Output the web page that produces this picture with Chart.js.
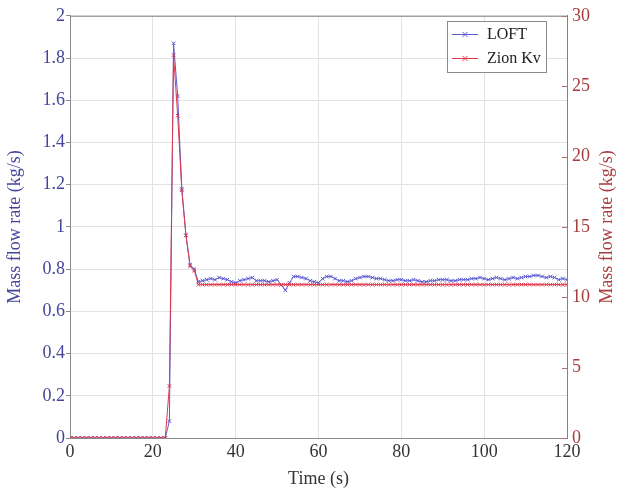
<!DOCTYPE html>
<html>
<head>
<meta charset="utf-8">
<script src="https://cdn.jsdelivr.net/npm/chart.js@4"></script>
<style>
  html, body { margin: 0; padding: 0; background: #ffffff; }
  canvas { display: block; }
</style>
</head>
<body>
<canvas id="flowChart" width="625" height="494"></canvas>
<script>
// Time stamps (s)
const time = [
  0,1,2,3,4,5,6,7,8,9,10,11,12,13,14,15,16,17,18,19,20,
  21,22,23,24,25,26,27,28,29,30,31,32,33,34,35,36,37,38,39,40,
  41,42,43,44,45,46,47,48,49,50,51,52,53,54,55,56,57,58,59,60,
  61,62,63,64,65,66,67,68,69,70,71,72,73,74,75,76,77,78,79,80,
  81,82,83,84,85,86,87,88,89,90,91,92,93,94,95,96,97,98,99,100,
  101,102,103,104,105,106,107,108,109,110,111,112,113,114,115,116,117,118,119,120
];

// LOFT mass flow rate (kg/s), left axis
const loftFlow = [
  0,0,0,0,0,0,0,0,0,0,0,0,0,0,0,0,0,0,0,0,0,
  0,0,0,0.08,1.87,1.62,1.18,0.96,0.82,0.80,0.74,0.745,0.75,0.755,0.75,0.76,0.755,0.75,0.74,0.735,
  0.745,0.75,0.755,0.76,0.745,0.745,0.745,0.74,0.745,0.75,0.725,0.70,0.735,0.765,0.765,0.76,0.755,0.745,0.74,0.735,
  0.755,0.765,0.765,0.755,0.745,0.745,0.74,0.745,0.755,0.76,0.765,0.765,0.76,0.755,0.755,0.75,0.745,0.745,0.75,0.75,
  0.745,0.745,0.75,0.745,0.74,0.74,0.745,0.745,0.75,0.75,0.75,0.745,0.745,0.75,0.75,0.75,0.755,0.755,0.76,0.755,
  0.75,0.755,0.76,0.755,0.75,0.755,0.76,0.755,0.76,0.765,0.765,0.77,0.77,0.765,0.76,0.765,0.76,0.75,0.755,0.75
];

// Zion Kv mass flow rate (kg/s), right axis
const zionFlow = [
  0,0,0,0,0,0,0,0,0,0,0,0,0,0,0,0,0,0,0,0,0,
  0,0,0,3.7,27.2,22.9,17.6,14.4,12.2,11.9,10.9,10.9,10.9,10.9,10.9,10.9,10.9,10.9,10.9,10.9,
  10.9,10.9,10.9,10.9,10.9,10.9,10.9,10.9,10.9,10.9,10.9,10.9,10.9,10.9,10.9,10.9,10.9,10.9,10.9,10.9,
  10.9,10.9,10.9,10.9,10.9,10.9,10.9,10.9,10.9,10.9,10.9,10.9,10.9,10.9,10.9,10.9,10.9,10.9,10.9,10.9,
  10.9,10.9,10.9,10.9,10.9,10.9,10.9,10.9,10.9,10.9,10.9,10.9,10.9,10.9,10.9,10.9,10.9,10.9,10.9,10.9,
  10.9,10.9,10.9,10.9,10.9,10.9,10.9,10.9,10.9,10.9,10.9,10.9,10.9,10.9,10.9,10.9,10.9,10.9,10.9,10.9
];

const seriesNames = ['LOFT', 'Zion Kv'];
const rightTicks = [0, 5, 10, 15, 20, 25, 30];

const BLUE = '#5a5ad2';
const RED = '#e0384c';
const BLUE_TEXT = '#45459a';
const RED_TEXT = '#a83c3c';
const SERIF = '"Liberation Serif", "DejaVu Serif", serif';

const toPoints = (xs, ys) => xs.map((x, i) => ({ x: x, y: ys[i] }));
// plain number labels: 0, 0.2, ..., 1, 1.2, ..., 2
const plainLabel = v => String(parseFloat(Number(v).toFixed(2)));

// Frame, inner ticks of the right axis, its rotated title and the boxed key
const decorations = {
  id: 'decorations',
  afterDatasetsDraw(chart) {
    const ctx = chart.ctx;
    const a = chart.chartArea;
    const y1 = chart.scales.y1;
    ctx.save();
    // top border
    ctx.strokeStyle = '#8a8a8a';
    ctx.lineWidth = 1;
    ctx.beginPath();
    ctx.moveTo(a.left, a.top + 0.5);
    ctx.lineTo(a.right, a.top + 0.5);
    ctx.stroke();
    // right-axis inward ticks
    ctx.strokeStyle = '#b07070';
    rightTicks.forEach(v => {
      const py = Math.round(y1.getPixelForValue(v)) + 0.5;
      ctx.beginPath();
      ctx.moveTo(a.right - 5, py);
      ctx.lineTo(a.right, py);
      ctx.stroke();
    });
    // right axis title, reading upward
    ctx.fillStyle = RED_TEXT;
    ctx.font = '18px ' + SERIF;
    ctx.textAlign = 'center';
    ctx.textBaseline = 'middle';
    ctx.translate(607, (a.top + a.bottom) / 2);
    ctx.rotate(-Math.PI / 2);
    ctx.fillText('Mass flow rate (kg/s)', 0, 0);
    ctx.restore();

    // key box
    ctx.save();
    const bx = 447, by = 21, bw = 99, bh = 51;
    ctx.fillStyle = '#ffffff';
    ctx.fillRect(bx, by, bw, bh);
    ctx.strokeStyle = '#8a8a8a';
    ctx.lineWidth = 1;
    ctx.strokeRect(bx + 0.5, by + 0.5, bw, bh);
    const colors = [BLUE, RED];
    const rows = [34, 58];
    ctx.font = '16px ' + SERIF;
    ctx.textAlign = 'left';
    ctx.textBaseline = 'middle';
    seriesNames.forEach((name, i) => {
      const ry = rows[i] + 0.5;
      ctx.strokeStyle = colors[i];
      ctx.beginPath();
      ctx.moveTo(452, ry);
      ctx.lineTo(478, ry);
      ctx.stroke();
      const mx = 465, r = 2.5;
      ctx.beginPath();
      ctx.moveTo(mx - r, ry - r); ctx.lineTo(mx + r, ry + r);
      ctx.moveTo(mx - r, ry + r); ctx.lineTo(mx + r, ry - r);
      ctx.stroke();
      ctx.fillStyle = '#222222';
      ctx.fillText(name, 487, rows[i] + 1);
    });
    ctx.restore();
  }
};

new Chart(document.getElementById('flowChart'), {
  type: 'line',
  data: {
    datasets: [
      {
        label: seriesNames[0],
        data: toPoints(time, loftFlow),
        yAxisID: 'y',
        borderColor: BLUE,
        backgroundColor: BLUE,
        borderWidth: 1,
        pointStyle: 'crossRot',
        pointRadius: 2.5,
        pointBorderWidth: 1,
        pointBorderColor: BLUE,
        order: 1
      },
      {
        label: seriesNames[1],
        data: toPoints(time, zionFlow),
        yAxisID: 'y1',
        borderColor: RED,
        backgroundColor: RED,
        borderWidth: 1,
        pointStyle: 'crossRot',
        pointRadius: 2.5,
        pointBorderWidth: 1,
        pointBorderColor: RED,
        order: 0
      }
    ]
  },
  options: {
    responsive: false,
    animation: false,
    devicePixelRatio: 1,
    layout: { padding: { top: 13, left: 0, right: 0, bottom: 0 } },
    plugins: {
      legend: { display: false },
      tooltip: { enabled: false }
    },
    scales: {
      x: {
        type: 'linear',
        min: 0,
        max: 120,
        ticks: {
          stepSize: 20,
          color: '#333333',
          font: { family: SERIF, size: 18 },
          padding: 3,
          maxRotation: 0,
          callback: plainLabel
        },
        grid: { color: '#e2e2e2', drawTicks: false },
        border: { color: '#8a8a8a' },
        title: {
          display: true,
          text: 'Time (s)',
          color: '#333333',
          font: { family: SERIF, size: 18 },
          padding: { top: 0, bottom: 4 }
        },
        afterFit(scale) { scale.height = 56; }
      },
      y: {
        position: 'left',
        min: 0,
        max: 2,
        ticks: {
          stepSize: 0.2,
          color: BLUE_TEXT,
          font: { family: SERIF, size: 18 },
          padding: 1,
          callback: plainLabel
        },
        grid: { color: '#e2e2e2', tickLength: 4, tickColor: '#8a8a8a' },
        border: { color: '#8a8a8a' },
        title: {
          display: true,
          text: 'Mass flow rate (kg/s)',
          color: BLUE_TEXT,
          font: { family: SERIF, size: 18 },
          padding: { top: 4, bottom: 0 }
        },
        afterFit(scale) { scale.width = 70; }
      },
      y1: {
        position: 'right',
        min: 0,
        max: 30,
        ticks: {
          stepSize: 5,
          color: RED_TEXT,
          font: { family: SERIF, size: 18 },
          padding: 5,
          callback: plainLabel
        },
        grid: { display: false, drawOnChartArea: false, drawTicks: false },
        border: { color: '#b07070' },
        afterFit(scale) { scale.width = 58; }
      }
    }
  },
  plugins: [decorations]
});
</script>
</body>
</html>
